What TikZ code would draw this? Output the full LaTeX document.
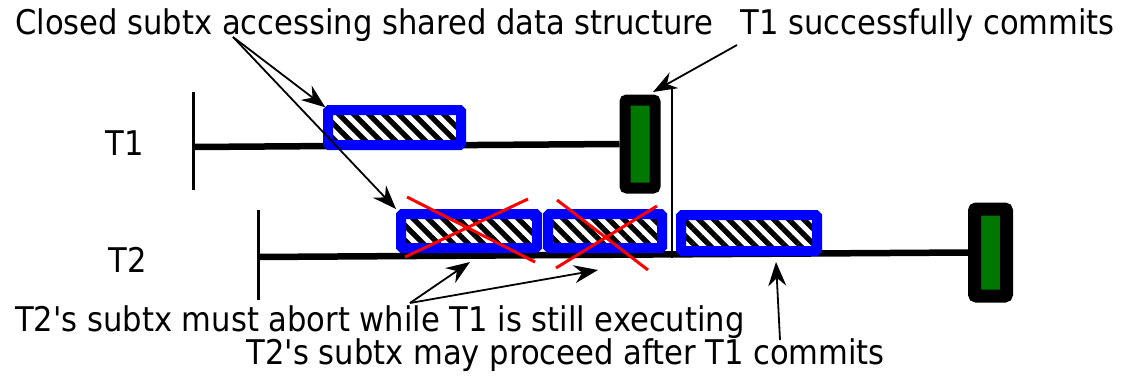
\documentclass[tikz,border=0pt]{standalone}
\usepackage{fontspec}
\setmainfont{DejaVu Sans Condensed}[Ligatures=TeXOff]
\usetikzlibrary{arrows.meta,patterns.meta}
\definecolor{commitgreen}{RGB}{0,120,0}
\tikzset{
  lbl/.style={font=\fontsize{34}{34}\selectfont, inner sep=0pt},
  timeline/.style={line width=6.5pt},
  tick/.style={line width=3pt},
  subtx/.style={draw=blue, line width=10pt, rounded corners=1.5pt, inner sep=0pt,
    pattern={Lines[angle=-45, distance=10.6pt, line width=5.3pt]}},
  commit/.style={draw=black, line width=11pt, fill=commitgreen, rounded corners=2pt, inner sep=0pt},
  cross/.style={red, line width=3pt},
  note/.style={line width=1.8pt, -{Stealth[length=24pt, width=18pt, inset=8pt]}},
}
\begin{document}
\begin{tikzpicture}[x=1pt, y=-1pt]
\useasboundingbox (0,0) rectangle (1121,375);

% labels
\node[lbl, anchor=west] (closed) at (15,25) {Closed subtx accessing shared data structure};
\node[lbl, anchor=east] (commits) at (1115,25) {T1 successfully commits};
\node[lbl] (t1) at (125,143) {T1};
\node[lbl] (t2) at (128,260) {T2};
\node[lbl, anchor=west] (abort) at (15,322) {T2's subtx must abort while T1 is still executing};
\node[lbl, anchor=east] (proceed) at (885,355) {T2's subtx may proceed after T1 commits};

% transaction T1
\coordinate (t1s) at (193,147);
\draw[tick] (193,92) -- (193,190);
\node[commit, minimum width=30pt, minimum height=88pt] (c1) at (640,144) {};
\draw[timeline] (t1s) -- (c1.west);
\node[subtx, minimum width=133pt, minimum height=35pt] (a1) at (394.5,127.5) {};

% transaction T2
\coordinate (t2s) at (258,257);
\draw[tick] (258,210) -- (258,300);
\node[commit, line width=13pt, minimum width=32pt, minimum height=87pt] (c2) at (990.5,252.5) {};
\draw[timeline] (t2s) -- (c2.west);
\node[subtx, minimum width=136pt, minimum height=34pt] (b1) at (469,231) {};
\node[subtx, minimum width=114pt, minimum height=34pt] (b2) at (605,231) {};
\node[subtx, minimum width=136pt, minimum height=36pt] (b3) at (749,233) {};

% aborted subtransactions
\draw[cross] (407,197) -- (535,262);
\draw[cross] (405,257) -- (528,199);
\draw[cross] (557,200) -- (648,270);
\draw[cross] (556,268) -- (657,206);

% commit point of T1 carried down to T2
\coordinate (cp) at (672,88);
\draw[line width=2pt] (cp) -- (672,258);

% annotations
\coordinate (o1) at (233,37);
\draw[note] (o1) -- (a1.north west);
\draw[note] (o1) -- (b1.north west);
\coordinate (o2) at (737,45);
\coordinate (c1tip) at (653,92);
\draw[note] (o2) -- (c1tip);
\coordinate (o3) at (410,303);
\draw[note] (o3) -- (470,262);
\draw[note] (o3) -- (598,270);
\coordinate (o4) at (780,340);
\draw[note] (o4) -- (776,262);
\end{tikzpicture}
\end{document}
